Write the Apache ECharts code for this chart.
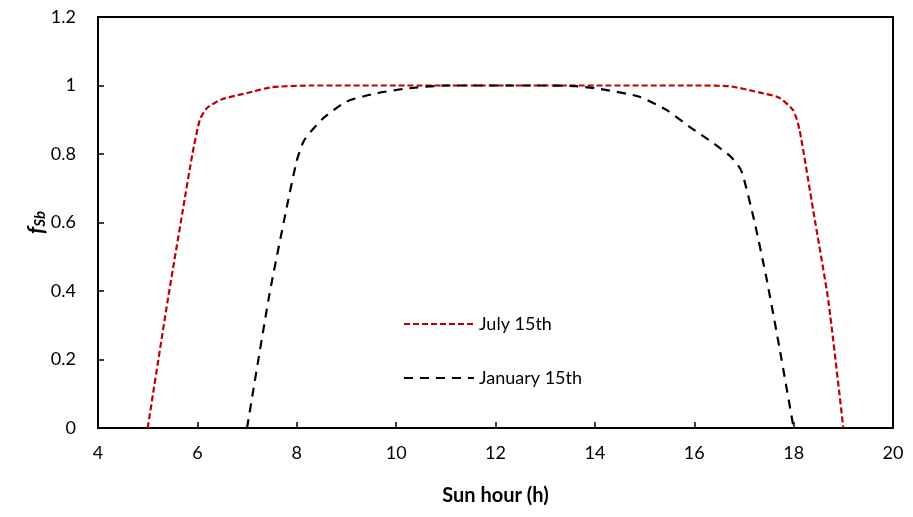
<!DOCTYPE html>
<html>
<head>
<meta charset="utf-8">
<script src="https://cdn.jsdelivr.net/npm/echarts@6/dist/echarts.min.js"></script>
<style>
html, body { margin: 0; padding: 0; background: #fff; }
#chart { width: 913px; height: 517px; }
</style>
</head>
<body>
<div id="chart"></div>
<script>
// July 15th
const julyHours = [5, 5.4, 5.7, 5.9, 6.05, 6.2, 6.5, 7, 7.5, 8.3, 10, 12, 14, 16, 16.7, 17.3, 17.7, 17.99, 18.12, 18.4, 18.7, 19]
const julyValues = [0, 0.37, 0.63, 0.8, 0.9, 0.935, 0.96, 0.978, 0.995, 1, 1, 1, 1, 1, 0.998, 0.98, 0.965, 0.928, 0.87, 0.63, 0.37, 0]

// January 15th
const janHours = [7, 7.45, 7.8, 8, 8.15, 8.5, 9, 9.6, 10.2, 11, 12, 13, 13.6, 14.1, 14.9, 15.45, 15.9, 16.4, 16.75, 16.95, 17.2, 17.45, 17.72, 18]
const janValues = [0, 0.39, 0.645, 0.78, 0.84, 0.9, 0.953, 0.977, 0.991, 1, 1, 1, 0.998, 0.99, 0.967, 0.928, 0.88, 0.83, 0.79, 0.75, 0.61, 0.44, 0.23, 0]

const xTicks = [4, 6, 8, 10, 12, 14, 16, 18, 20]
const yTicks = [0, 0.2, 0.4, 0.6, 0.8, 1, 1.2]

function pairs (xs, ys) {
  return xs.map((x, i) => [x, ys[i]])
}

const myChart = echarts.init(document.getElementById('chart'))
const font = 'Lato, "Open Sans", sans-serif'

myChart.setOption({
  animation: false,
  textStyle: { fontFamily: font },
  grid: {
    left: 98,
    top: 17,
    right: 20,
    bottom: 89,
    show: true,
    borderColor: '#000',
    borderWidth: 2
  },
  xAxis: {
    type: 'value',
    min: xTicks[0],
    max: xTicks[xTicks.length - 1],
    interval: 2,
    name: 'Sun hour (h)',
    nameLocation: 'middle',
    nameGap: 58,
    nameTextStyle: { fontSize: 20, fontWeight: 'bold', color: '#000', fontFamily: font },
    axisLine: { lineStyle: { color: '#000', width: 2 } },
    axisTick: { inside: true, length: 6, lineStyle: { color: '#000', width: 1.5 } },
    axisLabel: { fontSize: 18, color: '#000', margin: 16, fontFamily: font },
    splitLine: { show: false }
  },
  yAxis: {
    type: 'value',
    min: yTicks[0],
    max: yTicks[yTicks.length - 1],
    interval: 0.2,
    name: '{f|f}{s|Sb}',
    nameLocation: 'middle',
    nameGap: 50,
    nameMoveOverlap: false,
    nameRotate: 90,
    nameTextStyle: {
      rich: {
        f: { fontSize: 22, fontWeight: 'bold', fontStyle: 'italic', color: '#000', fontFamily: font },
        s: { fontSize: 15, fontWeight: 'bold', fontStyle: 'italic', color: '#000', fontFamily: font, verticalAlign: 'bottom', padding: [8, 0, 0, 0] }
      }
    },
    axisLine: { show: true, lineStyle: { color: '#000', width: 2 } },
    axisTick: { show: true, inside: true, length: 6, lineStyle: { color: '#000', width: 1.5 } },
    axisLabel: {
      fontSize: 18,
      color: '#000',
      margin: 22,
      fontFamily: font,
      formatter: v => String(Math.round(v * 10) / 10)
    },
    splitLine: { show: false }
  },
  legend: {
    orient: 'vertical',
    left: 398,
    top: 310,
    itemWidth: 70,
    itemHeight: 14,
    itemGap: 36,
    itemStyle: { opacity: 0 },
    textStyle: { fontSize: 18, color: '#000', fontFamily: font, padding: [0, 0, 0, 0] },
    data: ['July 15th', 'January 15th']
  },
  series: [
    {
      name: 'July 15th',
      type: 'line',
      data: pairs(julyHours, julyValues),
      smooth: 0.2,
      symbol: 'none',
      lineStyle: { color: '#c00000', width: 2.2, type: [6, 3] },
      itemStyle: { color: '#c00000' }
    },
    {
      name: 'January 15th',
      type: 'line',
      data: pairs(janHours, janValues),
      smooth: 0.2,
      symbol: 'none',
      lineStyle: { color: '#000', width: 2.2, type: [9, 7] },
      itemStyle: { color: '#000' }
    }
  ]
})

window.addEventListener('resize', () => {
  myChart.resize()
})
</script>
</body>
</html>
